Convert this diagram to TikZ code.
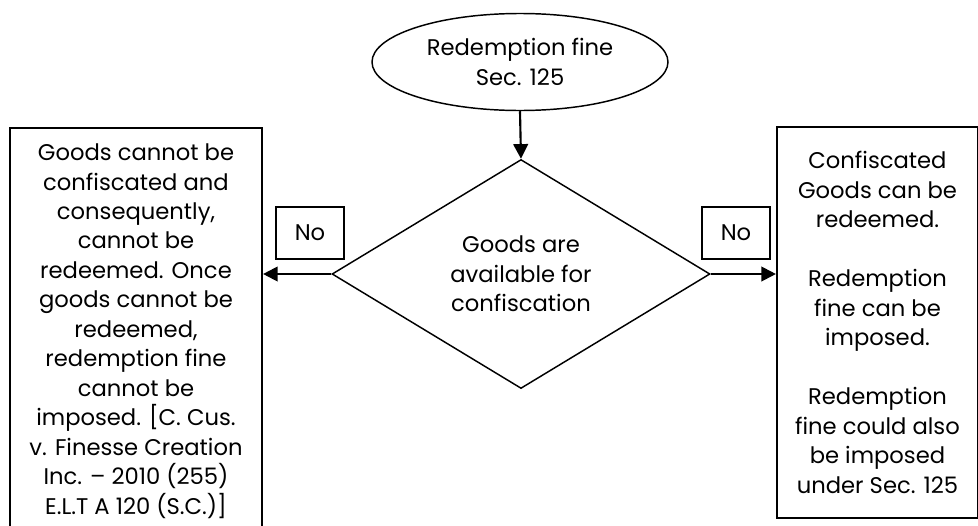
\documentclass[tikz,border=0pt]{standalone}
\usepackage{fontspec}
\setmainfont{Poppins}
\usetikzlibrary{arrows.meta,positioning,shapes.geometric}

\begin{document}
\begin{tikzpicture}[x=0.75pt,y=-0.75pt, every node/.style={font=\fontsize{17}{22.1}\selectfont,align=center}, startnode/.style={draw,ellipse,line width=1.1pt,minimum width=222pt,minimum height=72.75pt,inner sep=0pt}, decision/.style={draw,diamond,aspect=1.65,line width=1.1pt,minimum width=283.5pt,minimum height=171.75pt,inner sep=0pt}, outbox/.style={draw,line width=1.6pt,inner sep=0pt}, nobox/.style={draw,line width=1.3pt,minimum width=51pt,minimum height=39pt,inner sep=0pt}, arr/.style={-{Triangle[length=11pt,width=11pt]},line width=1.6pt}]
  \useasboundingbox (0,0) rectangle (978,525);
  \clip (0,0) rectangle (978,525);
  \node[startnode] (start) at (520,62) {Redemption fine\\Sec. 125};
  \node[decision] (avail) at (521,274) {Goods are\\available for\\confiscation};
  \node[outbox,anchor=north,minimum width=189pt,minimum height=304.5pt] (notconf) at (136,127)
    {Goods cannot be\\confiscated and\\consequently,\\cannot be\\redeemed. Once\\goods cannot be\\redeemed,\\redemption fine\\cannot be\\imposed. [C. Cus.\\v. Finesse Creation\\Inc. -- 2010 (255)\\E.L.T A 120 (S.C.)]};
  \node[outbox,minimum width=150.75pt,minimum height=293.25pt] (conf) at (877.5,322.5)
    {Confiscated\\Goods can be\\redeemed.\\[22.1pt]Redemption\\fine can be\\imposed.\\[22.1pt]Redemption\\fine could also\\be imposed\\under Sec. 125};
  \node[nobox] (noleft) at (310,233) {No};
  \node[nobox] (noright) at (736,233) {No};
  \draw[arr] (start.south) -- (avail.north);
  \draw[arr] (avail.west) -- (avail.west -| notconf.east);
  \draw[arr] (avail.east) -- (avail.east -| conf.west);
\end{tikzpicture}
\end{document}
